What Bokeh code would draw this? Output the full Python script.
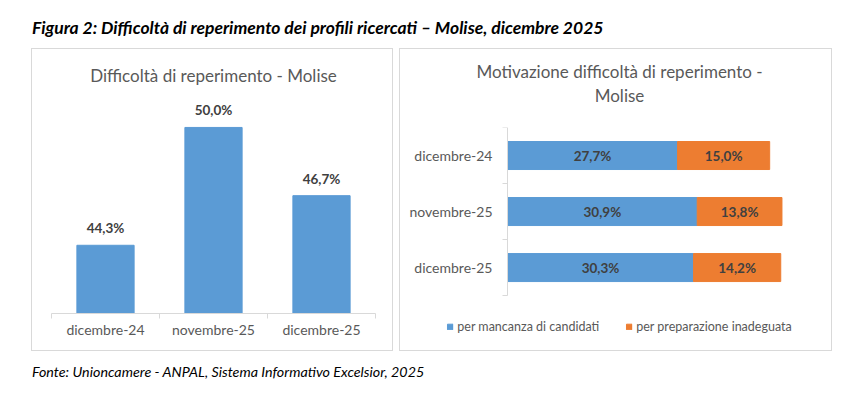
from bokeh.plotting import figure
from bokeh.models import Range1d, FixedTicker, Div, Legend, LegendItem, Title, LinearAxis
from bokeh.layouts import column, row
from bokeh.core.properties import value
from bokeh.embed import file_html
from bokeh.resources import INLINE

# ---- data ----
categories = ["dicembre-24", "novembre-25", "dicembre-25"]
difficolta = [44.3, 50.0, 46.7]
mancanza = [27.7, 30.9, 30.3]
preparazione = [15.0, 13.8, 14.2]
series_names = ["per mancanza di candidati", "per preparazione inadeguata"]

main_title = "Figura 2: Difficoltà di reperimento dei profili ricercati – Molise, dicembre 2025"
footer = "Fonte: Unioncamere - ANPAL, Sistema Informativo Excelsior, 2025"
title_left = "Difficoltà di reperimento - Molise"
title_right_1 = "Motivazione difficoltà di reperimento -"
title_right_2 = "Molise"

BLUE = "#5b9bd5"
ORANGE = "#ed7d31"
GRAY = "#595959"
DARK = "#404040"
LINE = "#d9d9d9"
FONT = "Lato"
BOX = {"border": "1px solid #d9d9d9", "box-sizing": "border-box"}


def fmt(v):
    return f"{v:.1f}".replace(".", ",") + "%"


n = len(categories)
centers = [i + 0.5 for i in range(n)]
bounds = [float(i) for i in range(n + 1)]

# ---- left chart ----
p1 = figure(width=362, height=303, x_range=Range1d(0, n), y_range=Range1d(41, 51.4),
            output_backend="svg", toolbar_location=None, frame_align=False,
            min_border_left=19, min_border_right=19, min_border_top=47, min_border_bottom=39,
            styles=BOX, margin=(0, 0, 0, 31))
p1.title.text = title_left
p1.title.align = "center"
p1.title.text_font = FONT
p1.title.text_font_style = "normal"
p1.title.text_font_size = "17px"
p1.title.text_color = GRAY
p1.title.standoff = 26
p1.vbar(x=centers, top=difficolta, bottom=0, width=0.53, color=BLUE)
p1.text(x=centers, y=difficolta, text=[fmt(v) for v in difficolta], text_align="center",
        text_baseline="bottom", y_offset=-9, text_font=value(FONT), text_font_style="bold",
        text_font_size="13.5px", text_color=DARK)
p1.yaxis.visible = False
p1.xgrid.visible = False
p1.ygrid.visible = False
p1.outline_line_color = None
ax = p1.xaxis[0]
ax.ticker = FixedTicker(ticks=centers, minor_ticks=bounds)
ax.major_label_overrides = {c: lab for c, lab in zip(centers, categories)}
ax.axis_line_color = LINE
ax.major_tick_line_color = None
ax.major_tick_out = 5
ax.major_tick_in = 0
ax.minor_tick_line_color = LINE
ax.minor_tick_in = 0
ax.minor_tick_out = 5
ax.major_label_standoff = 2
ax.major_label_text_font = FONT
ax.major_label_text_font_size = "14px"
ax.major_label_text_color = GRAY

# ---- right chart ----
ys = [n - 0.5 - i for i in range(n)]
p2 = figure(width=433, height=303, x_range=Range1d(-16.45, 52.93), y_range=Range1d(-0.82, n),
            output_backend="svg", toolbar_location=None, frame_align=False,
            x_axis_location=None, y_axis_location=None,
            min_border_left=6, min_border_right=1, min_border_top=78, min_border_bottom=11,
            styles=BOX, margin=(0, 0, 0, 6))
p2.title.text = title_right_1
p2.title.align = "center"
p2.title.text_font = FONT
p2.title.text_font_style = "normal"
p2.title.text_font_size = "17px"
p2.title.text_color = GRAY
p2.title.standoff = 0
p2.add_layout(Title(text=title_right_2 + "\n", align="center", text_font=FONT,
                    text_font_style="normal", text_font_size="17px", text_color=GRAY,
                    standoff=2), "above")
ends = [a + b for a, b in zip(mancanza, preparazione)]
r1 = p2.hbar(y=ys, left=0, right=mancanza, height=0.5, color=BLUE)
r2 = p2.hbar(y=ys, left=mancanza, right=ends, height=0.5, color=ORANGE)
p2.text(x=[v / 2 for v in mancanza], y=ys, text=[fmt(v) for v in mancanza],
        text_align="center", text_baseline="middle", text_font=value(FONT),
        text_font_style="bold", text_font_size="13.5px", text_color=DARK)
p2.text(x=[a + b / 2 for a, b in zip(mancanza, preparazione)], y=ys,
        text=[fmt(v) for v in preparazione], text_align="center", text_baseline="middle",
        text_font=value(FONT), text_font_style="bold", text_font_size="13.5px", text_color=DARK)
p2.xgrid.visible = False
p2.ygrid.visible = False
p2.outline_line_color = None
ay = LinearAxis(fixed_location=0, bounds=(0, n),
                ticker=FixedTicker(ticks=ys, minor_ticks=bounds),
                major_label_overrides={y: lab for y, lab in zip(ys, categories)})
ay.axis_line_color = LINE
ay.major_tick_line_color = None
ay.major_tick_out = 0
ay.major_tick_in = 0
ay.minor_tick_line_color = LINE
ay.minor_tick_in = 0
ay.minor_tick_out = 5
ay.major_label_standoff = 10
ay.major_label_text_font = FONT
ay.major_label_text_font_size = "14px"
ay.major_label_text_color = GRAY
p2.add_layout(ay, "left")

legend = Legend(items=[LegendItem(label=series_names[0], renderers=[r1]),
                       LegendItem(label=series_names[1], renderers=[r2])],
                orientation="horizontal", location="bottom_center")
legend.glyph_width = 7
legend.glyph_height = 7
legend.label_standoff = 4
legend.spacing = 26
legend.padding = 0
legend.margin = 7
legend.label_height = 14
legend.border_line_color = None
legend.background_fill_alpha = 0
legend.label_text_font = FONT
legend.label_text_font_size = "12.5px"
legend.label_text_color = GRAY
p2.add_layout(legend, "center")

# ---- page ----
title_div = Div(text=f'<span style="font-family:Lato;font-style:italic;font-weight:bold;'
                     f'font-size:17.5px;line-height:20px;color:#000;white-space:nowrap">{main_title}</span>',
                width=810, height=20, margin=(18, 0, 10, 32))
footer_div = Div(text=f'<span style="font-family:Lato;font-style:italic;'
                      f'font-size:14.3px;line-height:20px;color:#000;white-space:nowrap">{footer}</span>',
                 width=810, height=20, margin=(11, 0, 0, 32))
charts = row(p1, p2)
layout = column(title_div, charts, footer_div)

open("out.html", "w").write(file_html(layout, INLINE))
